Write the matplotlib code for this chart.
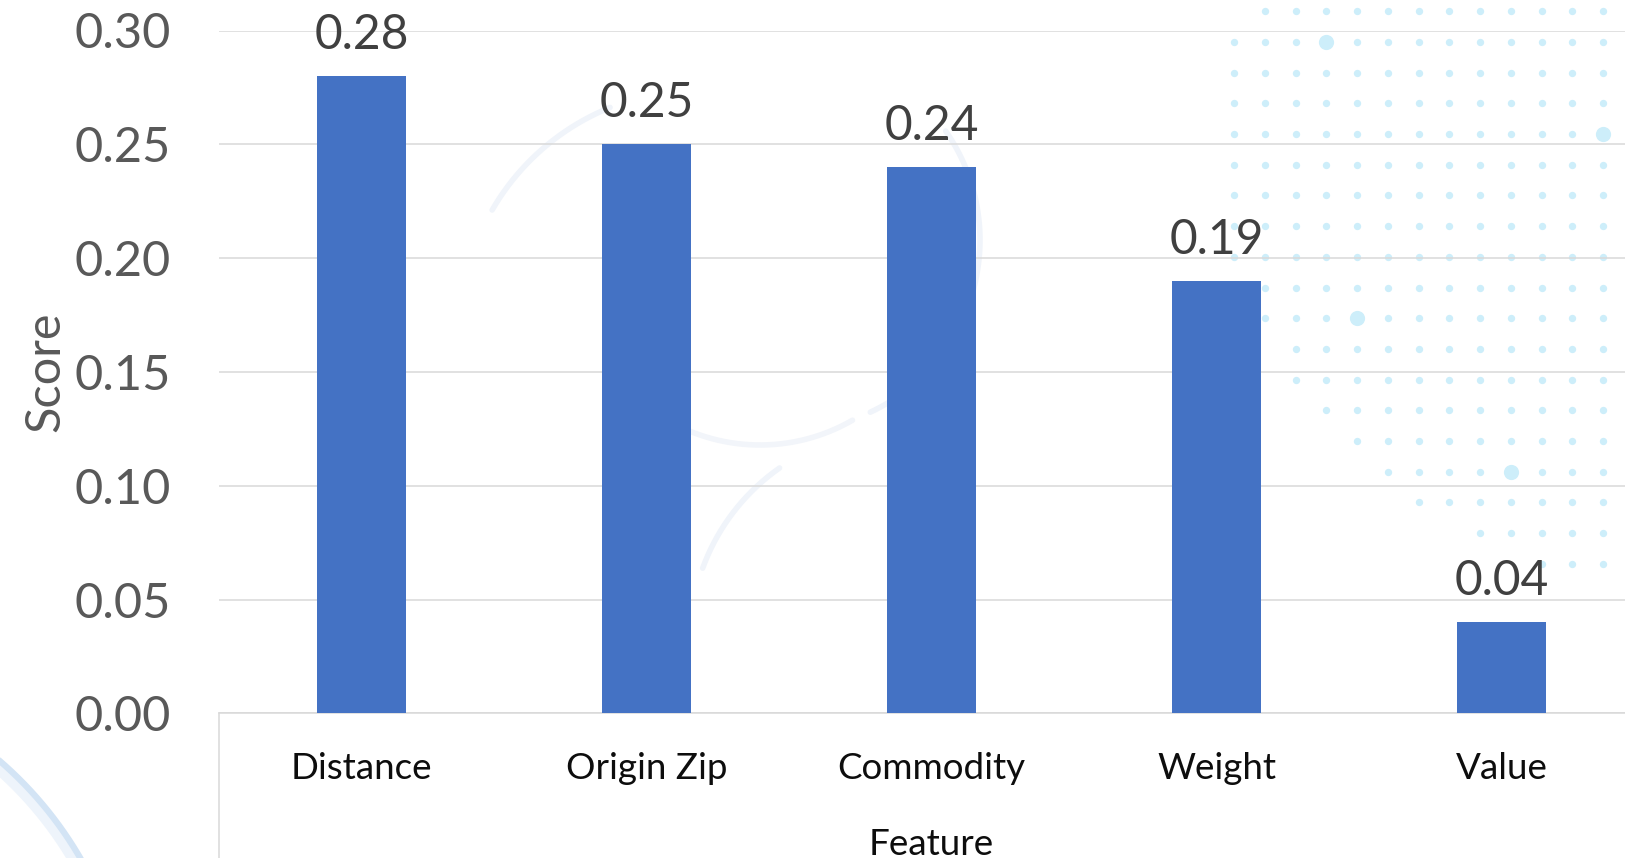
import numpy as np
import matplotlib
matplotlib.use("Agg")
import matplotlib.pyplot as plt

# chart data
features = ["Distance", "Origin Zip", "Commodity", "Weight", "Value"]
scores = [0.28, 0.25, 0.24, 0.19, 0.04]
y_ticks = [0.00, 0.05, 0.10, 0.15, 0.20, 0.25, 0.30]

plt.rcParams['font.family'] = ['Lato', 'DejaVu Sans']

W, H = 1625, 858
fig = plt.figure(figsize=(W / 100, H / 100), dpi=100)
fig.patch.set_facecolor('white')

# background decoration layer, pixel coordinates (y down)
bg = fig.add_axes([0, 0, 1, 1], zorder=0)
bg.set_xlim(0, W)
bg.set_ylim(H, 0)
bg.axis('off')

def arc(cx, cy, r, t0, t1, **kw):
    t = np.radians(np.linspace(t0, t1, 200))
    bg.plot(cx + r * np.cos(t), cy + r * np.sin(t), solid_capstyle='round', **kw)

arc(-250, 1050, 376, -58, -20, color='#eef4fb', lw=9)
arc(-250, 1050, 382, -58, -20, color='#d3e4f5', lw=4.5)
arc(790, 240, 190, -35, 65, color='#f0f4fa', lw=4)
arc(700, 330, 240, -150, -112, color='#f0f4fa', lw=4)
arc(900, 640, 210, -160, -125, color='#f0f4fa', lw=4)
arc(760, 260, 185, 60, 125, color='#f2f5fa', lw=4)

# dot pattern (top right)
row_start = [1, 0, 0, 0, 0, 0, 0, 0, 0, 0, 1, 2, 2, 3, 4, 5, 6, 8, 10]
big = {(1, 3), (4, 12), (10, 4), (15, 9)}
for j, c0 in enumerate(row_start):
    for k in range(c0, 13):
        px, py = 1234 + 30.75 * k, 11.2 + 30.7 * j
        s = 120 if (j, k) in big else 28
        bg.scatter(px, py, s=s, color='#cdeefa', linewidths=0)

# main chart
ax = fig.add_axes([219 / W, 144.7 / H, 1425 / W, 682.8 / H], zorder=1)
ax.patch.set_alpha(0)

x = np.arange(len(features))
ax.bar(x, scores, width=0.312, color='#4472C4', zorder=3)

for xi, v in zip(x, scores):
    ax.annotate(f"{v:.2f}", (xi, v), xytext=(0, 19.5), textcoords='offset points',
                ha='center', va='baseline', fontsize=34.5, color='#404040')

ax.set_xlim(-0.5, len(features) - 0.5)
ax.set_ylim(0, 0.30)
ax.set_yticks(y_ticks)
ax.set_yticklabels([f"{v:.2f}" for v in y_ticks])
ax.set_xticks(x)
ax.set_xticklabels(features)

ax.yaxis.grid(True, color='#d9d9d9', lw=1.1)
ax.set_axisbelow(True)
for s in ['top', 'right', 'left']:
    ax.spines[s].set_visible(False)
ax.spines['bottom'].set_color('#d9d9d9')
ax.spines['bottom'].set_linewidth(1.1)
ax.plot([0, 0], [0, -0.3], transform=ax.transAxes, color='#d9d9d9', lw=1.1, clip_on=False)

ax.tick_params(axis='y', length=0, pad=34.8, labelsize=35, labelcolor='#595959')
ax.tick_params(axis='x', length=0, pad=28, labelsize=26.5, labelcolor='#0d0d0d')

ax.set_xlabel("Feature", fontsize=26.5, color='#0d0d0d')
ax.xaxis.set_label_coords(0.5, -(828 - 713.3) / 682.8)
ax.set_ylabel("Score", fontsize=35, color='#595959')
ax.yaxis.set_label_coords((67 - 219) / 1425, 0.5)

fig.savefig("out.png", dpi=100)
